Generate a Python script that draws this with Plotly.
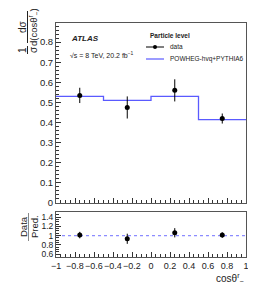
import plotly.graph_objects as go

bin_edges = [-1.0, -0.5, 0.0, 0.5, 1.0]
bin_centers = [-0.75, -0.25, 0.25, 0.75]
data_vals = [0.535, 0.475, 0.56, 0.42]
data_errs = [0.038, 0.055, 0.055, 0.025]
model_vals = [0.53, 0.51, 0.53, 0.415]
ratio_vals = [1.01, 0.93, 1.06, 1.01]
ratio_errs = [0.07, 0.11, 0.10, 0.06]

W, H = 256, 284
L, R, T, B = 48, 18, 15, 35
PW, PH = W - L - R, H - T - B

def px(x):
    return (x - L) / PW

def py(y):
    return (H - B - y) / PH

FONT = "Liberation Sans, Arial, sans-serif"
BLUE = "rgb(90,90,255)"

fig = go.Figure()
fig.add_trace(go.Scatter(x=bin_edges, y=model_vals + [model_vals[-1]], mode="lines",
                         line=dict(shape="hv", color=BLUE, width=1.3),
                         xaxis="x", yaxis="y", showlegend=False, hoverinfo="skip"))
fig.add_trace(go.Scatter(x=bin_centers, y=data_vals, mode="markers",
                         marker=dict(color="black", size=5),
                         error_y=dict(type="data", array=data_errs, color="black", thickness=1, width=0),
                         xaxis="x", yaxis="y", showlegend=False))
fig.add_trace(go.Scatter(x=[bin_edges[0], bin_edges[-1]], y=[1, 1], mode="lines",
                         line=dict(color="rgb(140,140,255)", width=1.2, dash="dot"),
                         xaxis="x2", yaxis="y2", showlegend=False, hoverinfo="skip"))
fig.add_trace(go.Scatter(x=bin_centers, y=ratio_vals, mode="markers",
                         marker=dict(color="black", size=5),
                         error_y=dict(type="data", array=ratio_errs, color="black", thickness=1, width=0),
                         xaxis="x2", yaxis="y2", showlegend=False))

def axcommon(size):
    return dict(showgrid=False, zeroline=False, showline=True, linecolor="#555", linewidth=1,
                mirror=True, ticks="inside", ticklen=5, tickcolor="#333", tickangle=0,
                tickfont=dict(family=FONT, size=size, color="#222"))

xticks = [-1, -0.8, -0.6, -0.4, -0.2, 0, 0.2, 0.4, 0.6, 0.8, 1]
xticktext = ["−1", "−0.8", "−0.6", "−0.4", "−0.2", "0", "0.2", "0.4", "0.6", "0.8", "1"]
rticks = [0.6, 0.8, 1, 1.2, 1.4]
rticktext = ["0.6", "0.8", "1", "1.2", "1.4"]

fig.update_layout(
    width=W, height=H, margin=dict(l=L, r=R, t=T, b=B),
    paper_bgcolor="white", plot_bgcolor="white",
    xaxis=dict(domain=[0, 1], anchor="y", range=[-1, 1], showticklabels=False,
               tickvals=xticks, minor=dict(dtick=0.05, tick0=-1, ticklen=3, ticks="inside", tickcolor="#333"),
               **axcommon(9)),
    yaxis=dict(domain=[py(195), 1], anchor="x", range=[0, 0.895], dtick=0.1,
               minor=dict(nticks=5, ticklen=3, ticks="inside", tickcolor="#333"), **axcommon(9.5)),
    xaxis2=dict(domain=[0, 1], anchor="y2", range=[-1, 1], tickvals=xticks, ticktext=xticktext,
                minor=dict(dtick=0.05, tick0=-1, ticklen=3, ticks="inside", tickcolor="#333"), **axcommon(9)),
    yaxis2=dict(domain=[0, py(204)], anchor="x2", range=[0.535, 1.51], tickvals=rticks, ticktext=rticktext,
                minor=dict(dtick=0.05, ticklen=3, ticks="inside", tickcolor="#333"), **axcommon(8.5)),
)

ann = []
def add(text, x, y, size=8, xanchor="center", yanchor="middle", angle=0, color="#222"):
    ann.append(dict(text=text, x=px(x), y=py(y), xref="paper", yref="paper", showarrow=False,
                    xanchor=xanchor, yanchor=yanchor, textangle=angle,
                    font=dict(family=FONT, size=size, color=color)))

# y title main
add("dσ", 14, 19, size=10, angle=-90)
add("d(cosθ<sup>r</sup><sub>−</sub>)", 25, 19, size=9.5, angle=-90)
add("1", 14, 42, size=10, angle=-90)
add("σ", 25, 42, size=10, angle=-90)
# ratio y title
add("Data", 15, 219, size=9.5, angle=-90)
add("Pred.", 26, 219, size=9.5, angle=-90)
# x title
add("cosθ<sup>r</sup><sub>−</sub>", 238, 270, size=10, xanchor="right")
# ATLAS
add("<b><i>ATLAS</i></b>", 61, 31, size=8, xanchor="left")
add("√s = 8 TeV, 20.2 fb<sup>−1</sup>", 60, 47, size=7, xanchor="left")
# legend
add("<b>Particle level</b>", 140, 27, size=6.5, xanchor="left")
add("data", 160, 39, size=6.5, xanchor="left")
add("POWHEG-hvq+PYTHIA6", 160, 51, size=6.5, xanchor="left")
fig.update_layout(annotations=ann)

shapes = [
    dict(type="line", xref="paper", yref="paper", x0=px(19.5), x1=px(19.5), y0=py(3), y1=py(35),
         line=dict(color="#222", width=1)),
    dict(type="line", xref="paper", yref="paper", x0=px(19.5), x1=px(19.5), y0=py(38), y1=py(46),
         line=dict(color="#222", width=1)),
    dict(type="line", xref="paper", yref="paper", x0=px(20.5), x1=px(20.5), y0=py(205), y1=py(233),
         line=dict(color="#888", width=1)),
    dict(type="line", xref="paper", yref="paper", x0=px(138), x1=px(156), y0=py(39), y1=py(39),
         line=dict(color="black", width=1)),
    dict(type="circle", xref="paper", yref="paper", x0=px(145), x1=px(149), y0=py(37), y1=py(41),
         fillcolor="black", line=dict(color="black", width=0)),
    dict(type="line", xref="paper", yref="paper", x0=px(138), x1=px(156), y0=py(51), y1=py(51),
         line=dict(color=BLUE, width=1.2)),
]
fig.update_layout(shapes=shapes)

fig.write_html("out.html")
